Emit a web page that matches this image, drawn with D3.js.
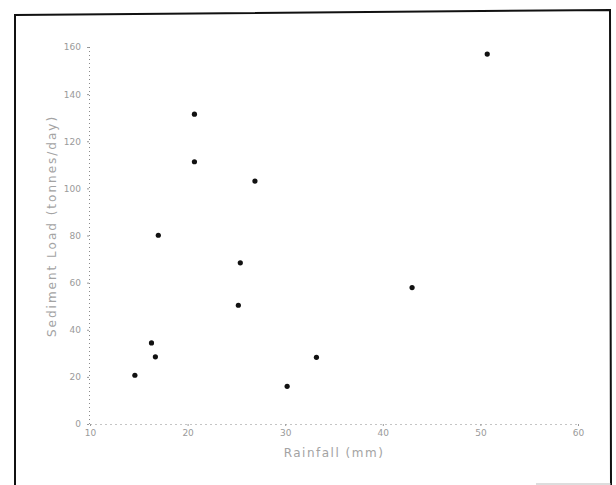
<!DOCTYPE html>
<html>
<head>
<meta charset="utf-8">
<script src="https://cdn.jsdelivr.net/npm/d3@7/dist/d3.min.js"></script>
<style>
  html, body { margin: 0; padding: 0; background: #fff; }
  svg { display: block; }
  .tick text { font-family: "DejaVu Sans", sans-serif; font-size: 9px; fill: #9a9a9a; }
  .axis-title { font-family: "DejaVu Sans", sans-serif; font-size: 12px; fill: #a3a3a3; }
</style>
</head>
<body>
<script>
// Rainfall against sediment load, one dot per observation
const rainfall = [20.7, 20.7, 26.9, 17.0, 25.4, 25.2, 16.3, 16.7, 33.2, 14.6, 30.2, 50.7, 43.0];
const sediment = [131.5, 111.3, 103.1, 80.1, 68.4, 50.4, 34.4, 28.5, 28.3, 20.7, 16.0, 157.0, 57.9];
const xTicks = [10, 20, 30, 40, 50, 60];
const yTicks = [0, 20, 40, 60, 80, 100, 120, 140, 160];

const W = 616, H = 485;
const svg = d3.select("body").append("svg").attr("width", W).attr("height", H);

// outer frame
svg.append("path")
  .attr("d", "M15,486 L15,15 L610,10 L611,486")
  .attr("fill", "none").attr("stroke", "#111").attr("stroke-width", 2);
svg.append("line")
  .attr("x1", 536).attr("y1", 484).attr("x2", 611).attr("y2", 484)
  .attr("stroke", "#bbb").attr("stroke-width", 1);

const x = d3.scaleLinear().domain([10, 60]).range([90, 578]);
const y = d3.scaleLinear().domain([0, 160]).range([424, 47]);

const gx = svg.append("g").attr("transform", "translate(0,424)")
  .call(d3.axisBottom(x).tickValues(xTicks).tickSizeInner(2).tickSizeOuter(0).tickPadding(4));
const gy = svg.append("g").attr("transform", "translate(89,0)")
  .call(d3.axisLeft(y).tickValues(yTicks).tickSizeInner(2).tickSizeOuter(0).tickPadding(6));

[gx, gy].forEach(g => {
  g.select(".domain").attr("stroke", "#8a8a8a").attr("stroke-width", 1).attr("stroke-dasharray", "1,3");
  g.selectAll(".tick line").attr("stroke", "#999");
});
gx.select(".domain").attr("stroke-dasharray", "1,4");
gy.select(".domain").attr("d", "M0.5,424V44");

svg.append("text").attr("class", "axis-title")
  .attr("x", 334).attr("y", 457).attr("text-anchor", "middle")
  .style("letter-spacing", "1.5px")
  .text("Rainfall (mm)");
svg.append("text").attr("class", "axis-title")
  .attr("transform", "translate(56,226) rotate(-90)").attr("text-anchor", "middle")
  .style("letter-spacing", "2px")
  .text("Sediment Load (tonnes/day)");

svg.append("g").selectAll("circle")
  .data(rainfall.map((r, i) => [r, sediment[i]]))
  .join("circle")
  .attr("cx", d => x(d[0])).attr("cy", d => y(d[1]))
  .attr("r", 2.6).attr("fill", "#111");
</script>
</body>
</html>
